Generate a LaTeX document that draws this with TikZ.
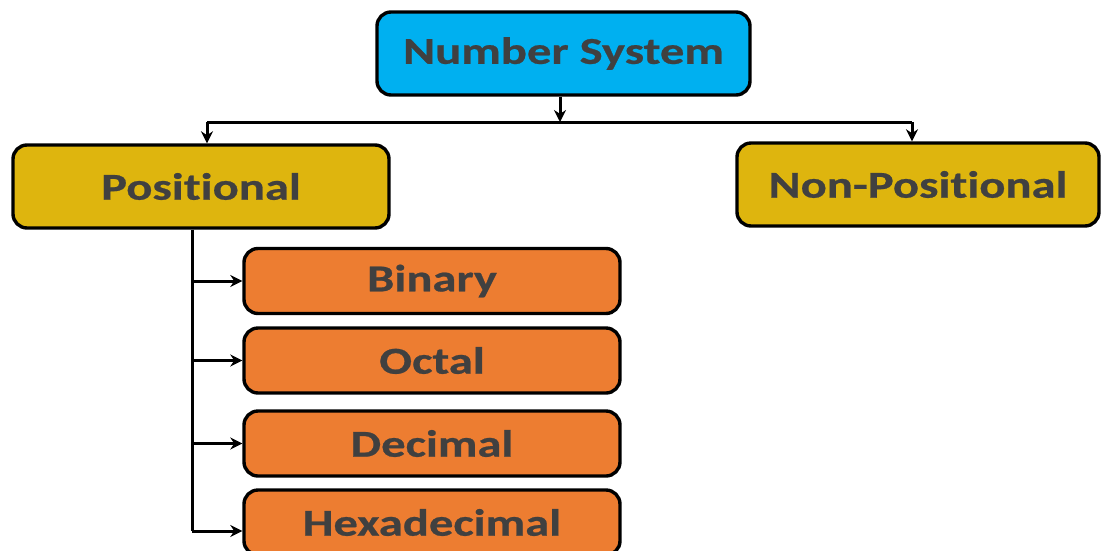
\documentclass[tikz,border=0pt]{standalone}
\usepackage{fontspec}
\setmainfont{Carlito}[Ligatures=NoCommon, BoldFeatures={FakeStretch=1.28, FakeBold=0.6}]
\usetikzlibrary{arrows.meta}
\definecolor{topblue}{HTML}{00B0F0}
\definecolor{midgold}{HTML}{DEB50E}
\definecolor{leaforange}{HTML}{ED7D31}
\definecolor{labelgray}{HTML}{404040}
\tikzset{
  box/.style={draw=black, line width=3.4pt, rounded corners=14pt,
    text=labelgray, font=\bfseries\fontsize{38}{40}\selectfont,
    inner sep=0pt, anchor=center},
  link/.style={line width=3pt, -{Stealth[length=12pt,width=12pt]}},
  wire/.style={line width=3pt}
}
\begin{document}
\begin{tikzpicture}[x=1pt,y=-1pt]
  \useasboundingbox (0,0) rectangle (1101,550);
  \clip (0,0) rectangle (1101,550);
  % top node
  \node[box, fill=topblue, minimum width=373pt, minimum height=83pt] (root) at (563.5,53.5) {Number System};
  % second level
  \node[box, fill=midgold, minimum width=376pt, minimum height=83pt] (pos) at (201,186.5) {Positional};
  \node[box, fill=midgold, minimum width=362pt, minimum height=83pt] (nonpos) at (918,184.5) {Non-Positional};
  % leaves
  \node[box, fill=leaforange, minimum width=376pt, minimum height=65pt] (bin) at (432,281) {Binary};
  \node[box, fill=leaforange, minimum width=376pt, minimum height=65pt] (oct) at (432,360.5) {Octal};
  \node[box, fill=leaforange, minimum width=376pt, minimum height=65pt] (dec) at (432,443.5) {Decimal};
  \node[box, fill=leaforange, minimum width=376pt, minimum height=65pt] (hex) at (432,522.5) {Hexadecimal};
  % branching from the root
  \coordinate (bus) at (560,122);
  \coordinate (busL) at (207,122);
  \coordinate (busR) at (912,122);
  \draw[link] (root.south -| bus) -- (bus);
  \draw[wire] (busL) -- (busR);
  \draw[link] (busL) -- (busL |- pos.north);
  \draw[link] (busR) -- (busR |- nonpos.north);
  % trunk under Positional
  \coordinate (trunk) at (192,531);
  \draw[wire] (pos.south -| trunk) -- (trunk);
  \draw[link] (trunk |- bin.west) -- (bin.west);
  \draw[link] (trunk |- oct.west) -- (oct.west);
  \draw[link] (trunk |- dec.west) -- (dec.west);
  \draw[link] (trunk) -- (trunk -| hex.west);
\end{tikzpicture}
\end{document}
